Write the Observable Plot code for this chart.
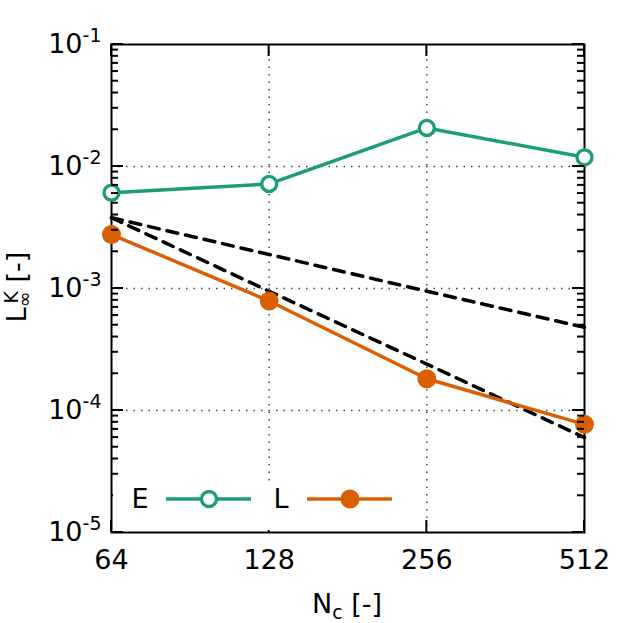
<!DOCTYPE html>
<html>
<head>
<meta charset="utf-8">
<script src="https://cdn.jsdelivr.net/npm/d3@7"></script>
<script src="https://cdn.jsdelivr.net/npm/@observablehq/plot@0.6"></script>
<style>
html,body{margin:0;padding:0;background:#fff;}
svg{font-family:"DejaVu Sans",sans-serif;}
</style>
</head>
<body>
<div id="chart"></div>
<script>
const Nc = [64, 128, 256, 512];
const errE = [6.1e-3, 7.2e-3, 2.07e-2, 1.19e-2];
const errL = [2.77e-3, 7.9e-4, 1.82e-4, 7.7e-5];
const ref1 = [3.8e-3, 1.9e-3, 9.5e-4, 4.8e-4];
const ref2 = [3.8e-3, 9.5e-4, 2.4e-4, 6.0e-5];
const xTicks = [64, 128, 256, 512];
const yTicks = [1e-5, 1e-4, 1e-3, 1e-2, 1e-1];
const yMinor = [];
for (let e = -5; e < -1; e++) for (let m = 2; m <= 9; m++) yMinor.push(m * Math.pow(10, e));
const seriesNames = ["E", "L"];
const colors = ["#1b9e77", "#d95f02"];

const toRows = (arr) => Nc.map((n, i) => ({n, v: arr[i]}));
const rowsE = toRows(errE), rowsL = toRows(errL), rowsR1 = toRows(ref1), rowsR2 = toRows(ref2);

const plot = Plot.plot({
  width: 623, height: 623,
  marginLeft: 111, marginRight: 39, marginTop: 44, marginBottom: 91,
  style: {fontFamily: "DejaVu Sans, sans-serif", fontSize: "27px", background: "#fff"},
  x: {type: "log", base: 2, domain: [64, 512]},
  y: {type: "log", domain: [1e-5, 1e-1]},
  marks: [
    Plot.gridX([128, 256], {stroke: "#444", strokeOpacity: 1, strokeWidth: 1.5, strokeDasharray: "1.5,6"}),
    Plot.gridY([1e-4, 1e-3, 1e-2], {stroke: "#444", strokeOpacity: 1, strokeWidth: 1.5, strokeDasharray: "1.5,6"}),
    Plot.axisX(xTicks, {anchor: "bottom", tickSize: 0, tickPadding: 17, fontSize: 27, fill: "#000", tickFormat: d => String(d), label: null}),
    Plot.axisY(yTicks, {anchor: "left", tickSize: 0, tickPadding: 10, fontSize: 27, fill: "#000", tickFormat: d => "10^" + Math.round(Math.log10(d)), label: null}),
    Plot.frame({stroke: "#000", strokeWidth: 2}),
    Plot.line(rowsR1, {x: "n", y: "v", stroke: "#000", strokeWidth: 3.5, strokeDasharray: "11,8"}),
    Plot.line(rowsR2, {x: "n", y: "v", stroke: "#000", strokeWidth: 3.5, strokeDasharray: "11,8"}),
    Plot.line(rowsE, {x: "n", y: "v", stroke: colors[0], strokeWidth: 3.5}),
    Plot.dot(rowsE, {x: "n", y: "v", r: 7.5, fill: "#fff", stroke: colors[0], strokeWidth: 3.3}),
    Plot.line(rowsL, {x: "n", y: "v", stroke: colors[1], strokeWidth: 3.5}),
    Plot.dot(rowsL, {x: "n", y: "v", r: 9.5, fill: colors[1], stroke: "none"})
  ]
});

const svg = d3.select(plot);
const sx = plot.scale("x"), sy = plot.scale("y");
const X0 = sx.range[0], X1 = sx.range[1], Y0 = sy.range[0], Y1 = sy.range[1];

// inward ticks (inserted before the frame so the data marks sit above them)
const tickG = svg.insert("g", "g[aria-label='frame']").attr("stroke", "#000").attr("stroke-width", 2);
function yTick(v, len) {
  const y = sy.apply(v);
  tickG.append("line").attr("x1", X0).attr("x2", X0 + len).attr("y1", y).attr("y2", y);
  tickG.append("line").attr("x1", X1).attr("x2", X1 - len).attr("y1", y).attr("y2", y);
}
yTicks.forEach(v => yTick(v, 12));
yMinor.forEach(v => yTick(v, 7));
xTicks.forEach(v => {
  const x = sx.apply(v);
  tickG.append("line").attr("x1", x).attr("x2", x).attr("y1", Y0).attr("y2", Y0 - 12);
  tickG.append("line").attr("x1", x).attr("x2", x).attr("y1", Y1).attr("y2", Y1 + 12);
});

// superscript exponents on y tick labels
svg.selectAll("text").each(function() {
  const t = d3.select(this);
  const s = t.text();
  if (s.startsWith("10^")) {
    const [b, e] = s.split("^");
    t.text(null);
    t.append("tspan").text(b);
    t.append("tspan").attr("dy", "-11").attr("font-size", 19).text(e.replace("\u2212", "-"));
  }
});

// axis labels
svg.append("text")
  .attr("x", 347).attr("y", 613).attr("text-anchor", "middle")
  .attr("font-size", 27).attr("fill", "#000")
  .call(t => {
    t.append("tspan").text("N");
    t.append("tspan").attr("font-size", 19).attr("dy", 6).text("c");
    t.append("tspan").attr("dy", -6).text(" [-]");
  });

svg.append("text")
  .attr("transform", "translate(26,287) rotate(-90)")
  .attr("text-anchor", "middle")
  .attr("font-size", 27).attr("fill", "#000")
  .call(t => {
    t.append("tspan").text("L");
    t.append("tspan").attr("font-size", 19).attr("dy", 5).text("∞");
    t.append("tspan").attr("font-size", 19).attr("dy", -13).attr("dx", -12).text("K");
    t.append("tspan").attr("dy", 8).text(" [-]");
  });

// legend
const lg = svg.append("g");
lg.append("rect").attr("x", 113).attr("y", 484).attr("width", 290).attr("height", 46).attr("fill", "#fff");
const items = [
  {x: 140, name: seriesNames[0], color: colors[0], open: true},
  {x: 281, name: seriesNames[1], color: colors[1], open: false}
];
items.forEach(it => {
  lg.append("text").attr("x", it.x).attr("y", 508).attr("text-anchor", "middle")
    .attr("font-size", 27).attr("fill", "#000").text(it.name);
  lg.append("line").attr("x1", it.x + 26).attr("x2", it.x + 111).attr("y1", 499).attr("y2", 499)
    .attr("stroke", it.color).attr("stroke-width", 3.5);
  lg.append("circle").attr("cx", it.x + 69).attr("cy", 499).attr("r", it.open ? 7.5 : 9.5)
    .attr("fill", it.open ? "#fff" : it.color).attr("stroke", it.open ? it.color : "none").attr("stroke-width", 3.3);
});

document.getElementById("chart").appendChild(plot);
</script>
</body>
</html>
